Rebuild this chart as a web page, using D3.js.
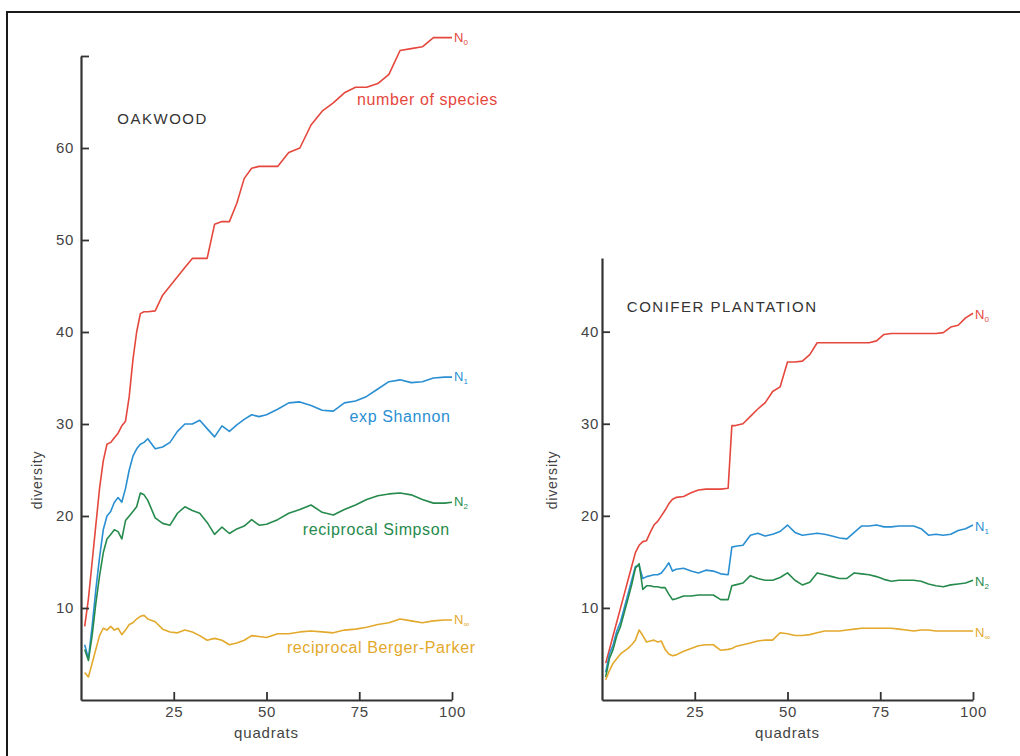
<!DOCTYPE html>
<html>
<head>
<meta charset="utf-8">
<script src="https://cdn.jsdelivr.net/npm/d3@7"></script>
<style>
  html, body { margin: 0; padding: 0; background: #fff; }
  svg { display: block; font-family: "Liberation Sans", Arial, Helvetica, sans-serif; }
</style>
</head>
<body>
<svg id="chart" width="1020" height="756"></svg>
<script>
// ---------- DATA ----------
const oakQuadrats = [1,2,3,4,5,6,7,8,9,10,11,12,13,14,15,16,17,18,20,22,24,26,28,30,32,34,36,38,40,42,44,46,48,50,53,56,59,62,65,68,71,74,77,80,83,86,89,92,95,98,100];
const oakN0   = [8,11,15,19,23,26,27.8,28,28.5,29,29.8,30.3,33,37,40,42,42.2,42.2, 42.3,44,45,46,47,48,48,48,51.7,52,52,54,56.7,57.8,58,58, 58,59.5,60,62.5,64,64.9,66,66.6,66.6,67,68,70.6,70.8,71,72,72, 72];
const oakN1   = [6,4.5,8,12,15.5,18.5,20,20.5,21.5,22,21.5,23,25,26.5,27.3,27.8,28,28.4, 27.3,27.5,28,29.2,30,30,30.4,29.5,28.6,29.8,29.2,29.9,30.5,31,30.8,31, 31.6,32.3,32.4,32,31.5,31.4,32.3,32.5,33,33.8,34.6,34.8,34.5,34.6,35,35.1, 35.1];
const oakN2   = [5.5,4.3,7,10.5,13.5,16,17.5,18,18.5,18.3,17.5,19.5,20,20.5,21,22.5,22.3,21.7, 19.8,19.2,19,20.3,21,20.6,20.3,19.3,18,18.8,18.1,18.6,18.9,19.6,19,19.1, 19.6,20.3,20.7,21.2,20.4,20.1,20.7,21.2,21.8,22.2,22.4,22.5,22.3,21.8,21.4,21.4, 21.5];
const oakNinf = [3,2.5,4,5.5,7,7.8,7.6,8,7.6,7.8,7.1,7.6,8.2,8.4,8.8,9.1,9.2,8.8, 8.5,7.7,7.4,7.3,7.6,7.4,7,6.5,6.7,6.5,6,6.2,6.5,7,6.9,6.8, 7.2,7.2,7.4,7.5,7.4,7.3,7.6,7.7,7.9,8.2,8.4,8.8,8.6,8.4,8.6,8.7, 8.7];

const conQuadrats = [1,2,3,4,5,6,7,8,9,10,11,12,13,14,15,16,17,18,19,20,22,24,26,28,30,32,34,35,36,38,40,42,44,46,48,50,52,54,56,58,60,62,64,66,68,70,72,74,76,78,80,82,84,86,88,90,92,94,96,98,100];
const conN0   = [4,5.5,7,8.5,10,11.5,13,14.5,16,16.8,17.2,17.3,18.2,19,19.4,20,20.6,21.3,21.8,22, 22.1,22.5,22.8,22.9,22.9,22.9,23, 29.8, 29.8,30,30.8,31.6,32.3,33.5,34,36.7,36.7,36.8,37.5,38.8,38.8,38.8,38.8,38.8,38.8,38.8,38.8,39,39.7,39.8,39.8,39.8,39.8,39.8,39.8,39.8,39.9,40.5,40.7,41.5,42];
const conN1   = [3,5,6,7.5,8.5,10,11.5,13,14.5,14.6,13.2,13.4,13.5,13.6,13.6,13.8,14.3,14.9,14,14.2, 14.3,14,13.8,14.1,14,13.7,13.6, 16.6, 16.7,16.8,17.9,18.1,17.8,18,18.3,19,18.2,17.9,18,18.1,18,17.8,17.6,17.5,18.2,18.9,18.9,19,18.8,18.8,18.9,18.9,18.9,18.6,17.9,18,17.9,18,18.4,18.6,19];
const conN2   = [2.5,4.5,5.5,7,8,9.5,11,12.5,14.3,14.8,12,12.4,12.4,12.3,12.3,12.2,12.2,11.5,10.9,11, 11.3,11.3,11.4,11.4,11.4,10.9,10.9, 12.4, 12.5,12.7,13.5,13.2,13,13,13.3,13.8,13,12.5,12.8,13.8,13.6,13.4,13.2,13.2,13.8,13.7,13.6,13.4,13.1,12.9,13,13,13,12.9,12.6,12.4,12.3,12.5,12.6,12.7,13];
const conNinf = [2.2,3.2,4,4.5,5,5.3,5.6,6,6.5,7.6,7,6.3,6.4,6.5,6.3,6.4,5.5,5,4.8,4.9, 5.3,5.6,5.9,6,6,5.4,5.5, 5.6, 5.8,6,6.2,6.4,6.5,6.5,7.3,7.2,7,7,7.1,7.3,7.5,7.5,7.5,7.6,7.7,7.8,7.8,7.8,7.8,7.8,7.7,7.6,7.5,7.6,7.6,7.5,7.5,7.5,7.5,7.5,7.5];

const xTicks = [25, 50, 75, 100];
const oakYTicks = [10, 20, 30, 40, 50, 60, 70];
const conYTicks = [10, 20, 30, 40];
const seriesSubs = ["0", "1", "2", "∞"];
const seriesColors = ["#e5473d", "#2a8fd2", "#268a4c", "#e3a92c"];

// ---------- DRAW ----------
const svg = d3.select("#chart");
const FONT = '"Liberation Sans", Arial, Helvetica, sans-serif';

// frame
svg.append("rect").attr("x", 7).attr("y", 12).attr("width", 1040).attr("height", 780)
  .attr("fill", "none").attr("stroke", "#1a1a1a").attr("stroke-width", 2);

function drawPanel(cfg) {
  const x = d3.scaleLinear().domain([0, 100]).range(cfg.xRange);
  const y = d3.scaleLinear().domain(cfg.yDomain).range(cfg.yRange);
  const g = svg.append("g");

  // lines
  cfg.series.forEach((vals, i) => {
    const pts = cfg.quadrats.map((q, k) => [q, vals[k]]);
    g.append("path").datum(pts)
      .attr("fill", "none").attr("stroke", seriesColors[i]).attr("stroke-width", 1.6)
      .attr("stroke-linejoin", "round")
      .attr("d", d3.line().x(d => x(d[0])).y(d => y(d[1])));
  });

  // y axis
  const ya = g.append("g").attr("transform", `translate(${cfg.xRange[0]},0)`)
    .call(d3.axisLeft(y).tickValues(cfg.yTicks).tickSizeInner(-8).tickSizeOuter(0)
      .tickPadding(cfg.yPad).tickFormat(d => d === 70 ? "" : d));
  // x axis
  const xa = g.append("g").attr("transform", `translate(0,${cfg.yRange[0]})`)
    .call(d3.axisBottom(x).tickValues(xTicks).tickSizeInner(-8).tickSizeOuter(0).tickPadding(6));
  [ya, xa].forEach(a => {
    a.select(".domain").attr("stroke", "#333").attr("stroke-width", 2.2);
    a.selectAll(".tick line").attr("stroke", "#333").attr("stroke-width", 1.8);
    a.selectAll(".tick text").attr("fill", "#444").style("font-family", FONT)
      .style("font-size", "15px").style("letter-spacing", "0.6px");
  });

  // axis titles
  g.append("text").attr("x", x(50)).attr("y", cfg.yRange[0] + 38).attr("text-anchor", "middle")
    .attr("fill", "#444").style("font-size", "15px").style("letter-spacing", "0.8px").text("quadrats");
  g.append("text").attr("transform", `translate(${cfg.xRange[0] + cfg.divOffset},480) rotate(-90)`)
    .attr("text-anchor", "middle").attr("fill", "#444").style("font-size", "14px")
    .style("letter-spacing", "0.8px").text("diversity");

  // panel title
  g.append("text").attr("x", x(cfg.title.q)).attr("y", y(cfg.title.v))
    .attr("fill", "#333").style("font-size", "15px").style("letter-spacing", "1.5px").text(cfg.title.text);

  // end labels
  cfg.series.forEach((vals, i) => {
    const last = vals[vals.length - 1];
    const t = g.append("text").attr("x", x(100) + 2).attr("y", y(last) + cfg.endDy)
      .attr("fill", seriesColors[i]).style("font-size", "13px");
    t.append("tspan").text("N");
    t.append("tspan").attr("dy", 3).style("font-size", "8px").text(seriesSubs[i]);
  });

  // descriptive labels
  (cfg.descs || []).forEach(d => {
    g.append("text").attr("x", x(d.q)).attr("y", y(d.v)).attr("fill", seriesColors[d.s])
      .style("font-size", "16px").style("letter-spacing", "0.6px").text(d.text);
  });
}

drawPanel({
  xRange: [81, 452], yDomain: [0, 70], yRange: [700, 56], yTicks: oakYTicks, yPad: 7,
  quadrats: oakQuadrats, series: [oakN0, oakN1, oakN2, oakNinf], endDy: 4, divOffset: -39,
  title: { text: "OAKWOOD", q: 9.8, v: 62.6 },
  descs: [
    { text: "number of species", q: 74.4, v: 64.7, s: 0 },
    { text: "exp Shannon", q: 72.4, v: 30.2, s: 1 },
    { text: "reciprocal Simpson", q: 59.8, v: 17.9, s: 2 },
    { text: "reciprocal Berger-Parker", q: 55.5, v: 5.1, s: 3 }
  ]
});

drawPanel({
  xRange: [602, 973], yDomain: [0, 48], yRange: [700, 258], yTicks: conYTicks, yPad: 3,
  quadrats: conQuadrats, series: [conN0, conN1, conN2, conNinf], endDy: 6, divOffset: -45,
  title: { text: "CONIFER PLANTATION", q: 6.7, v: 42.1 }
});
</script>
</body>
</html>
